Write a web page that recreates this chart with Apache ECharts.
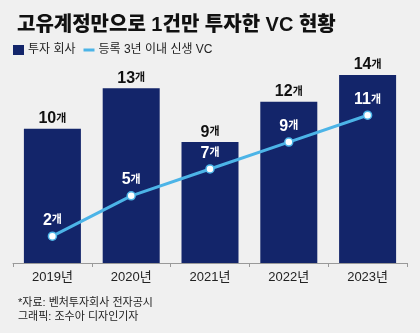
<!DOCTYPE html>
<html><head><meta charset="utf-8">
<script src="https://cdn.jsdelivr.net/npm/echarts@6/dist/echarts.min.js"></script>
<style>html,body{margin:0;padding:0;background:#f0f0f0;}#c{width:420px;height:333px;}</style>
</head><body><div id="c"></div>
<script>
const categories = ['2019년','2020년','2021년','2022년','2023년'];
const investCompanies = [10,13,9,12,14];
const newVC = [2,5,7,9,11];
const titleText = '고유계정만으로 1건만 투자한 VC 현황';
const seriesNames = ['투자 회사','등록 3년 이내 신생 VC'];
const sourceText = '*자료: 벤처투자회사 전자공시';
const creditText = '그래픽: 조수아 디자인기자';
const FONT = '"Liberation Sans", "Noto Sans CJK KR", sans-serif';
const NARROW = '"Liberation Sans Narrow", "Liberation Sans", "Noto Sans CJK KR", sans-serif';

const chart = echarts.init(document.getElementById('c'));
chart.setOption({
  backgroundColor:'#f0f0f0',
  textStyle:{fontFamily:FONT},
  title:[
    {text:titleText,left:12,top:10,textStyle:{fontFamily:FONT,fontSize:20,fontWeight:900,color:'#111'}},
    {text:sourceText,left:13,top:292,textStyle:{fontFamily:FONT,fontSize:11,fontWeight:'normal',color:'#222'}},
    {text:creditText,left:13,top:306,textStyle:{fontFamily:FONT,fontSize:11,fontWeight:'normal',color:'#222'}}
  ],
  legend:[
    {data:[{name:seriesNames[0],icon:'rect'}],left:13,top:44,itemWidth:11,itemHeight:10,itemGap:0,
     textStyle:{fontFamily:FONT,fontSize:12,color:'#222',padding:[0,0,0,-1]},padding:0},
    {data:[seriesNames[1]],left:82,top:44,itemWidth:11,itemHeight:10,
     itemStyle:{opacity:0},lineStyle:{color:'#4cb4e7',width:3},
     textStyle:{fontFamily:FONT,fontSize:12,color:'#222',padding:[0,0,0,-1]},padding:0}
  ],
  grid:{left:13,right:13,top:61.5,bottom:70},
  xAxis:{type:'category',data:categories,
    axisLine:{lineStyle:{color:'#999',width:1}},
    axisTick:{show:true,length:4,lineStyle:{color:'#999'}},
    axisLabel:{fontFamily:FONT,fontSize:13,color:'#222',margin:8}},
  yAxis:{type:'value',min:0,max:15,show:false,splitLine:{show:false}},
  series:[
    {name:seriesNames[0],type:'bar',data:investCompanies,barWidth:57,
     itemStyle:{color:'#13256a'},
     label:{show:true,position:'top',distance:2,formatter:'{n|{c}}{u|개}',
       rich:{n:{fontFamily:NARROW,fontSize:16,fontWeight:'bold',color:'#111'},
             u:{fontFamily:FONT,fontSize:11,fontWeight:'bold',color:'#111'}}}},
    {name:seriesNames[1],type:'line',data:newVC,
     lineStyle:{color:'#4cb4e7',width:3},
     itemStyle:{color:'#ffffff',borderColor:'#4cb4e7',borderWidth:1.5},
     symbol:'circle',symbolSize:8,
     label:{show:true,position:'top',distance:3,formatter:'{n|{c}}{u|개}',
       rich:{n:{fontFamily:NARROW,fontSize:16,fontWeight:'bold',color:'#fff'},
             u:{fontFamily:FONT,fontSize:11,fontWeight:'bold',color:'#fff'}}}}
  ]
});
</script></body></html>
